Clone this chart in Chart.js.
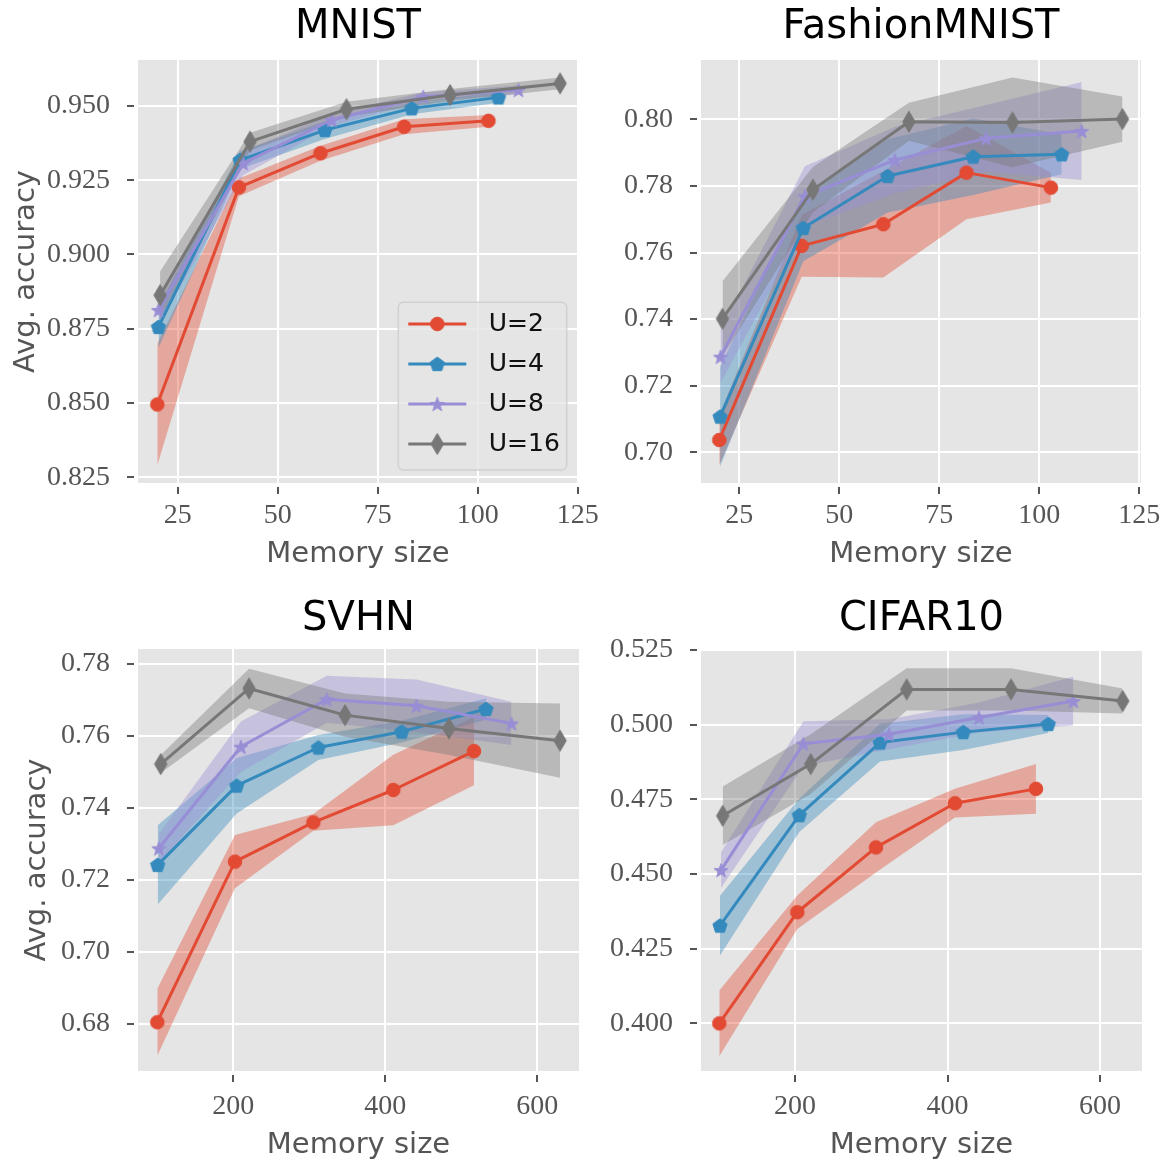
<!DOCTYPE html>
<html>
<head>
<meta charset="utf-8">
<script src="https://cdn.jsdelivr.net/npm/chart.js@4.4.1/dist/chart.umd.min.js"></script>
<style>
html, body { margin: 0; padding: 0; background: #ffffff; }
#wrap { position: relative; width: 1170px; height: 1167px; overflow: hidden; }
#wrap canvas { position: absolute; display: block; }
</style>
</head>
<body>
<div id="wrap">
  <canvas id="c0" width="612" height="583" style="left:0px;top:0px;"></canvas>
  <canvas id="c1" width="585" height="583" style="left:585px;top:0px;"></canvas>
  <canvas id="c2" width="612" height="584" style="left:0px;top:583px;"></canvas>
  <canvas id="c3" width="585" height="584" style="left:585px;top:583px;"></canvas>
</div>
<script>
// ---------------- DATA ----------------
const seriesLabels = ['U=2', 'U=4', 'U=8', 'U=16'];
const panelTitles = ['MNIST', 'FashionMNIST', 'SVHN', 'CIFAR10'];
const xAxisLabel = 'Memory size';
const yAxisLabel = 'Avg. accuracy';

// rows: U=2, U=4, U=8, U=16
const mnistMem = [
  [19.9, 40.3, 60.7, 81.6, 102.7],
  [20.2, 40.6, 61.8, 83.5, 105.2],
  [20.2, 41.4, 63.5, 86.4, 110.2],
  [20.6, 43.1, 67.2, 93.1, 120.6]
];
const mnistAcc = [
  [0.8495, 0.9226, 0.9341, 0.9430, 0.9450],
  [0.8756, 0.9318, 0.9419, 0.9492, 0.9529],
  [0.8813, 0.9307, 0.9453, 0.9531, 0.9554],
  [0.8863, 0.9380, 0.9489, 0.9537, 0.9576]
];
const mnistStd = [
  [0.0205, 0.0030, 0.0025, 0.0025, 0.0020],
  [0.0070, 0.0030, 0.0030, 0.0020, 0.0018],
  [0.0050, 0.0040, 0.0020, 0.0015, 0.0015],
  [0.0080, 0.0030, 0.0025, 0.0020, 0.0020]
];

const fashionMem = [
  [20.0, 40.6, 61.0, 81.8, 102.9],
  [20.2, 41.0, 62.1, 83.5, 105.6],
  [20.3, 41.4, 63.9, 86.7, 110.6],
  [20.8, 43.4, 67.4, 93.3, 120.8]
];
const fashionAcc = [
  [0.7037, 0.7620, 0.7685, 0.7840, 0.7795],
  [0.7107, 0.7674, 0.7830, 0.7888, 0.7895],
  [0.7287, 0.7769, 0.7878, 0.7943, 0.7965],
  [0.7401, 0.7789, 0.7993, 0.7991, 0.8001]
];
const fashionStd = [
  [0.0075, 0.0093, 0.0160, 0.0140, 0.0045],
  [0.0150, 0.0100, 0.0110, 0.0115, 0.0060],
  [0.0080, 0.0090, 0.0100, 0.0100, 0.0147],
  [0.0113, 0.0068, 0.0057, 0.0135, 0.0068]
];

const svhnMem = [
  [100.0, 202.2, 305.3, 410.5, 516.7],
  [100.5, 204.5, 311.9, 421.6, 532.5],
  [102.0, 210.0, 323.0, 441.0, 566.0],
  [104.5, 220.7, 347.0, 483.8, 629.9]
];
const svhnAcc = [
  [0.6805, 0.7251, 0.7360, 0.7450, 0.7558],
  [0.7242, 0.7462, 0.7568, 0.7612, 0.7675],
  [0.7288, 0.7570, 0.7702, 0.7684, 0.7635],
  [0.7522, 0.7732, 0.7658, 0.7621, 0.7587]
];
const svhnStd = [
  [0.0093, 0.0074, 0.0023, 0.0098, 0.0095],
  [0.0110, 0.0077, 0.0035, 0.0030, 0.0030],
  [0.0040, 0.0070, 0.0065, 0.0073, 0.0060],
  [0.0025, 0.0055, 0.0060, 0.0074, 0.0103]
];

const cifarMem = [
  [100.7, 203.0, 306.2, 409.8, 516.0],
  [101.6, 205.7, 311.5, 420.7, 532.2],
  [103.0, 211.0, 323.3, 441.3, 565.0],
  [105.2, 220.6, 346.5, 483.3, 629.8]
];
const cifarAcc = [
  [0.4000, 0.4372, 0.4589, 0.4737, 0.4785],
  [0.4327, 0.4697, 0.4940, 0.4975, 0.5002],
  [0.4513, 0.4936, 0.4968, 0.5024, 0.5079],
  [0.4695, 0.4868, 0.5118, 0.5118, 0.5079]
];
const cifarStd = [
  [0.0110, 0.0056, 0.0084, 0.0048, 0.0083],
  [0.0100, 0.0056, 0.0063, 0.0060, 0.0030],
  [0.0060, 0.0075, 0.0050, 0.0050, 0.0082],
  [0.0098, 0.0100, 0.0071, 0.0071, 0.0042]
];

const smallXTicks = [25, 50, 75, 100, 125];
const smallXLabels = ['25', '50', '75', '100', '125'];
const largeXTicks = [200, 400, 600];
const largeXLabels = ['200', '400', '600'];

const mnistYTicks = [0.825, 0.85, 0.875, 0.9, 0.925, 0.95];
const mnistYLabels = ['0.825', '0.850', '0.875', '0.900', '0.925', '0.950'];
const fashionYTicks = [0.70, 0.72, 0.74, 0.76, 0.78, 0.80];
const fashionYLabels = ['0.70', '0.72', '0.74', '0.76', '0.78', '0.80'];
const svhnYTicks = [0.68, 0.70, 0.72, 0.74, 0.76, 0.78];
const svhnYLabels = ['0.68', '0.70', '0.72', '0.74', '0.76', '0.78'];
const cifarYTicks = [0.400, 0.425, 0.450, 0.475, 0.500, 0.525];
const cifarYLabels = ['0.400', '0.425', '0.450', '0.475', '0.500', '0.525'];

// ---------------- STYLE ----------------
const seriesColors = ['#E24A33', '#348ABD', '#988ED5', '#777777'];
const markerKinds = ['circle', 'pentagon', 'star', 'diamond'];
const BAND_ALPHA = 0.4;

function rgba(hex, a) {
  const n = parseInt(hex.slice(1), 16);
  return 'rgba(' + ((n >> 16) & 255) + ',' + ((n >> 8) & 255) + ',' + (n & 255) + ',' + a + ')';
}

function makeMarker(kind, color) {
  const c = document.createElement('canvas');
  const w = kind === 'diamond' ? 16 : 18;
  const h = kind === 'diamond' ? 24 : 18;
  c.width = w; c.height = h;
  const g = c.getContext('2d');
  const cx = w / 2, cy = h / 2;
  g.fillStyle = color; g.strokeStyle = color; g.lineWidth = 1;
  g.beginPath();
  if (kind === 'circle') {
    g.arc(cx, cy, 6.8, 0, 2 * Math.PI);
  } else if (kind === 'pentagon') {
    for (let i = 0; i < 5; i++) {
      const a = -Math.PI / 2 + i * 2 * Math.PI / 5;
      const px = cx + 7.5 * Math.cos(a), py = cy + 0.6 + 7.5 * Math.sin(a);
      if (i) g.lineTo(px, py); else g.moveTo(px, py);
    }
  } else if (kind === 'star') {
    for (let i = 0; i < 10; i++) {
      const r = (i % 2) ? 3.0 : 7.4;
      const a = -Math.PI / 2 + i * Math.PI / 5;
      const px = cx + r * Math.cos(a), py = cy + 0.8 + r * Math.sin(a);
      if (i) g.lineTo(px, py); else g.moveTo(px, py);
    }
  } else {
    g.moveTo(cx, cy - 10.5); g.lineTo(cx + 6.2, cy); g.lineTo(cx, cy + 10.5); g.lineTo(cx - 6.2, cy);
  }
  g.closePath(); g.fill(); g.stroke();
  return c;
}
const markerImgs = seriesColors.map((col, s) => makeMarker(markerKinds[s], col));

// gray panel background + white spine
const ggPlugin = {
  id: 'ggstyle',
  beforeDraw(chart) {
    const a = chart.chartArea, ctx = chart.ctx;
    ctx.save();
    ctx.fillStyle = '#E5E5E5';
    ctx.fillRect(a.left, a.top, a.right - a.left, a.bottom - a.top);
    ctx.restore();
  },
  beforeDatasetsDraw(chart) {
    const a = chart.chartArea, ctx = chart.ctx;
    ctx.save();
    ctx.strokeStyle = '#FFFFFF';
    ctx.lineWidth = 4;
    ctx.strokeRect(a.left, a.top, a.right - a.left, a.bottom - a.top);
    ctx.restore();
  }
};

// legend inside the axes with line+marker samples
const legendPlugin = {
  id: 'ggLegend',
  afterLayout(chart, args, opts) {
    const L = chart.legend;
    if (!L || !L.options.display || !opts || opts.x === undefined) return;
    const w = L.width, h = L.height;
    L.left = opts.x; L.top = opts.y; L.right = opts.x + w; L.bottom = opts.y + h;
  },
  afterDatasetsDraw(chart, args, opts) {
    const L = chart.legend;
    if (!L || !L.options.display || !opts || opts.x === undefined) return;
    const ctx = chart.ctx;
    const f = opts.frame;
    ctx.save();
    ctx.beginPath();
    if (ctx.roundRect) ctx.roundRect(f.x, f.y, f.w, f.h, 5); else ctx.rect(f.x, f.y, f.w, f.h);
    ctx.fillStyle = 'rgba(229,229,229,0.8)';
    ctx.fill();
    ctx.lineWidth = 1.5;
    ctx.strokeStyle = 'rgba(204,204,204,0.8)';
    ctx.stroke();
    L.legendHitBoxes.forEach((hb, i) => {
      const item = L.legendItems[i];
      const ds = chart.data.datasets[item.datasetIndex];
      const cy = hb.top + hb.height / 2;
      ctx.strokeStyle = ds.borderColor;
      ctx.lineWidth = 3;
      ctx.beginPath();
      ctx.moveTo(hb.left, cy);
      ctx.lineTo(hb.left + opts.lineLen, cy);
      ctx.stroke();
      const img = ds.pointStyle;
      ctx.drawImage(img, hb.left + opts.lineLen / 2 - img.width / 2, cy - img.height / 2);
    });
    ctx.restore();
    L.draw();
  }
};

const tickFont = { family: "'Liberation Serif', 'Times New Roman', serif", size: 28 };
const labelFont = { family: "'DejaVu Sans', sans-serif", size: 29 };

function labelFor(ticks, labels) {
  return (v) => {
    const i = ticks.findIndex(t => Math.abs(t - v) < 1e-9);
    return i >= 0 ? labels[i] : '';
  };
}

function makeChart(p) {
  const datasets = [];
  const lineIndex = [];
  for (let s = 3; s >= 0; s--) {
    const col = seriesColors[s];
    const mem = p.mem[s], acc = p.acc[s], sd = p.std[s];
    datasets.push({
      label: seriesLabels[s] + ' low',
      data: mem.map((x, i) => ({ x: x, y: acc[i] - sd[i] })),
      borderWidth: 0, borderColor: 'rgba(0,0,0,0)', pointRadius: 0, pointHoverRadius: 0,
      fill: false, tension: 0
    });
    datasets.push({
      label: seriesLabels[s] + ' high',
      data: mem.map((x, i) => ({ x: x, y: acc[i] + sd[i] })),
      borderWidth: 0, borderColor: 'rgba(0,0,0,0)', pointRadius: 0, pointHoverRadius: 0,
      fill: '-1', backgroundColor: rgba(col, BAND_ALPHA), tension: 0
    });
    lineIndex[s] = datasets.length;
    datasets.push({
      label: seriesLabels[s],
      data: mem.map((x, i) => ({ x: x, y: acc[i] })),
      borderColor: col, backgroundColor: col, borderWidth: 3, tension: 0, fill: false,
      pointStyle: markerImgs[s], pointRadius: 7, pointHoverRadius: 7,
      borderJoinStyle: 'round'
    });
  }

  const legendOpts = p.legend ? {
    display: true, position: 'chartArea', align: 'start',
    labels: {
      boxWidth: 68, boxHeight: 10, padding: 15, color: '#111',
      font: { family: "'DejaVu Sans', sans-serif", size: 25 },
      generateLabels: () => seriesLabels.map((t, s) => ({
        text: t, fillStyle: 'rgba(0,0,0,0)', strokeStyle: 'rgba(0,0,0,0)', lineWidth: 0,
        hidden: false, datasetIndex: lineIndex[s], fontColor: '#111'
      }))
    }
  } : { display: false };

  return new Chart(document.getElementById(p.canvas), {
    type: 'line',
    data: { datasets: datasets },
    plugins: [ggPlugin, legendPlugin],
    options: {
      responsive: false, animation: false, events: [],
      layout: { padding: p.padding },
      scales: {
        x: {
          type: 'linear', min: p.xMin, max: p.xMax, bounds: 'data',
          afterFit: (sc) => { sc.height = p.xAxisH; sc.paddingLeft = 0; sc.paddingRight = 0; },
          afterBuildTicks: (sc) => { sc.ticks = p.xTicks.map(v => ({ value: v })); },
          ticks: { callback: labelFor(p.xTicks, p.xLabels), font: tickFont, color: '#555', padding: p.xTickPad, autoSkip: false, maxRotation: 0 },
          grid: { color: '#FFFFFF', lineWidth: 2, tickColor: '#555', tickWidth: 2, tickLength: 9 },
          border: { display: false },
          title: { display: true, text: xAxisLabel, font: labelFont, color: '#555', padding: { top: 0, bottom: p.xTitlePad } }
        },
        y: {
          type: 'linear', min: p.yMin, max: p.yMax, bounds: 'data',
          afterFit: (sc) => { sc.width = p.yAxisW; sc.paddingTop = 0; sc.paddingBottom = 0; },
          afterBuildTicks: (sc) => { sc.ticks = p.yTicks.map(v => ({ value: v })); },
          ticks: { callback: labelFor(p.yTicks, p.yLabels), font: tickFont, color: '#555', padding: 17, autoSkip: false },
          grid: { color: '#FFFFFF', lineWidth: 2, tickColor: '#555', tickWidth: 2, tickLength: 9 },
          border: { display: false },
          title: { display: p.yTitle, text: yAxisLabel, font: labelFont, color: '#555', padding: { top: p.yTitlePad, bottom: 0 } }
        }
      },
      plugins: {
        title: {
          display: true, text: p.title, color: '#000', fullSize: false,
          font: { family: "'DejaVu Sans', sans-serif", size: 40, weight: 'normal', lineHeight: 1.2 },
          padding: p.titlePad
        },
        legend: legendOpts,
        tooltip: { enabled: false },
        filler: { propagate: false, drawTime: 'beforeDatasetsDraw' },
        ggLegend: p.legend ? { x: 393.3, y: 296.5, lineLen: 58, frame: { x: 398.3, y: 302.3, w: 168.4, h: 167.7 } } : {}
      }
    }
  });
}

makeChart({
  canvas: 'c0', title: panelTitles[0], mem: mnistMem, acc: mnistAcc, std: mnistStd,
  xTicks: smallXTicks, xLabels: smallXLabels, yTicks: mnistYTicks, yLabels: mnistYLabels,
  xMin: 14.575, xMax: 125.575, yMin: 0.82239, yMax: 0.96616,
  padding: { left: 0, right: 32, top: 0, bottom: 0 },
  titlePad: { top: 4, bottom: 6 }, yAxisW: 136, xAxisH: 98, xTickPad: 5, xTitlePad: 11,
  yTitle: true, yTitlePad: 9, legend: true
});
makeChart({
  canvas: 'c1', title: panelTitles[1], mem: fashionMem, acc: fashionAcc, std: fashionStd,
  xTicks: smallXTicks, xLabels: smallXLabels, yTicks: fashionYTicks, yLabels: fashionYLabels,
  xMin: 14.925, xMax: 125.925, yMin: 0.69017, yMax: 0.81844,
  padding: { left: 0, right: 27, top: 0, bottom: 0 },
  titlePad: { top: 4, bottom: 6 }, yAxisW: 114, xAxisH: 98, xTickPad: 5, xTitlePad: 11,
  yTitle: false, yTitlePad: 0, legend: false
});
makeChart({
  canvas: 'c2', title: panelTitles[2], mem: svhnMem, acc: svhnAcc, std: svhnStd,
  xTicks: largeXTicks, xLabels: largeXLabels, yTicks: svhnYTicks, yLabels: svhnYLabels,
  xMin: 71.97, xMax: 657.5, yMin: 0.66639, yMax: 0.78472,
  padding: { left: 0, right: 31, top: 0, bottom: 0 },
  titlePad: { top: 13, bottom: 3 }, yAxisW: 136, xAxisH: 94, xTickPad: 8, xTitlePad: 4,
  yTitle: true, yTitlePad: 20, legend: false
});
makeChart({
  canvas: 'c3', title: panelTitles[3], mem: cifarMem, acc: cifarAcc, std: cifarStd,
  xTicks: largeXTicks, xLabels: largeXLabels, yTicks: cifarYTicks, yLabels: cifarYLabels,
  xMin: 74.1, xMax: 657.7, yMin: 0.38337, yMax: 0.5260,
  padding: { left: 0, right: 26, top: 0, bottom: 0 },
  titlePad: { top: 13, bottom: 3 }, yAxisW: 114, xAxisH: 94, xTickPad: 8, xTitlePad: 4,
  yTitle: false, yTitlePad: 0, legend: false
});
</script>
</body>
</html>
